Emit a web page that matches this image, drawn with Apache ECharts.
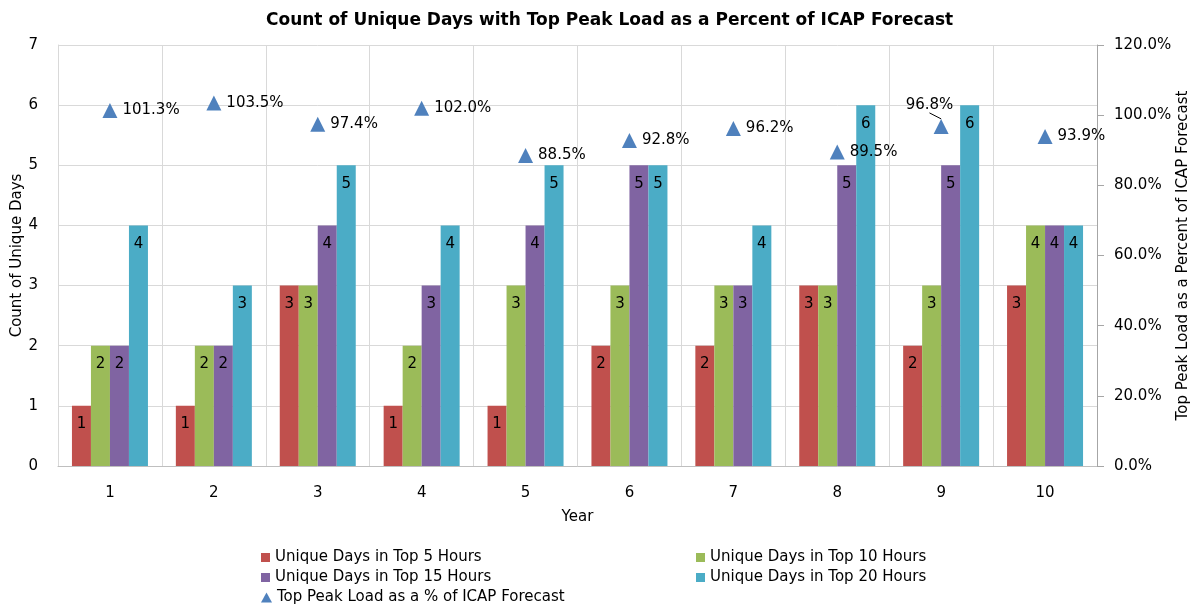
<!DOCTYPE html>
<html>
<head>
<meta charset="utf-8">
<script src="https://cdn.jsdelivr.net/npm/echarts@6/dist/echarts.min.js"></script>
<style>
  html, body { margin: 0; padding: 0; background: #fff; }
  #chart { width: 1196px; height: 604px; }
</style>
</head>
<body>
<div id="chart"></div>
<script>
  var years = ['1', '2', '3', '4', '5', '6', '7', '8', '9', '10'];
  var top5 = [1, 1, 3, 1, 1, 2, 2, 3, 2, 3];
  var top10 = [2, 2, 3, 2, 3, 3, 3, 3, 3, 4];
  var top15 = [2, 2, 4, 3, 4, 5, 3, 5, 5, 4];
  var top20 = [4, 3, 5, 4, 5, 5, 4, 6, 6, 4];
  var peakPct = [1.013, 1.035, 0.974, 1.020, 0.885, 0.928, 0.962, 0.895, 0.968, 0.939];
  // index of the point whose label sits above-left with a leader line
  var movedLabel = 8;

  var font = '"DejaVu Sans", "Liberation Sans", sans-serif';
  var myChart = echarts.init(document.getElementById('chart'));

  function barSeries(name, data, color) {
    return {
      name: name,
      type: 'bar',
      data: data,
      barWidth: 19,
      barGap: '0%',
      itemStyle: { color: color },
      label: {
        show: true,
        position: 'insideTop',
        distance: 11,
        color: '#000',
        fontSize: 15,
        fontFamily: font
      }
    };
  }

  var legendText = { fontSize: 15, color: '#000', fontFamily: font };

  var options = {
    animation: false,
    backgroundColor: '#fff',
    title: {
      text: 'Count of Unique Days with Top Peak Load as a Percent of ICAP Forecast',
      left: 261,
      top: 7,
      textStyle: { fontSize: 17, fontWeight: 'bold', color: '#000', fontFamily: font }
    },
    grid: { left: 58, right: 99, top: 45, bottom: 138, outerBoundsMode: 'none' },
    legend: [{
      left: 256,
      top: 545,
      orient: 'vertical',
      itemGap: 5,
      itemWidth: 9,
      itemHeight: 9,
      icon: 'rect',
      textStyle: legendText,
      data: ['Unique Days in Top 5 Hours', 'Unique Days in Top 15 Hours']
    }, {
      left: 256,
      top: 585,
      itemWidth: 11,
      itemHeight: 10,
      textStyle: legendText,
      data: [{ name: 'Top Peak Load as a % of ICAP Forecast', icon: 'triangle' }]
    }, {
      left: 691,
      top: 545,
      orient: 'vertical',
      itemGap: 5,
      itemWidth: 9,
      itemHeight: 9,
      icon: 'rect',
      textStyle: legendText,
      data: ['Unique Days in Top 10 Hours', 'Unique Days in Top 20 Hours']
    }],
    xAxis: {
      type: 'category',
      data: years,
      name: 'Year',
      nameLocation: 'middle',
      nameGap: 44,
      nameTextStyle: { fontSize: 15, color: '#000', fontFamily: font },
      axisLine: { lineStyle: { color: '#bfbfbf' } },
      axisTick: { show: false },
      axisLabel: { fontSize: 15, color: '#000', margin: 20, fontFamily: font },
      splitLine: { show: true, lineStyle: { color: '#d9d9d9' } }
    },
    yAxis: [{
      type: 'value',
      min: 0,
      max: 7,
      interval: 1,
      name: 'Count of Unique Days',
      nameLocation: 'middle',
      nameGap: 33,
      nameMoveOverlap: false,
      nameTextStyle: { fontSize: 15, color: '#000', fontFamily: font },
      axisLine: { show: true, lineStyle: { color: '#d9d9d9' } },
      axisTick: { show: false },
      axisLabel: { fontSize: 15, color: '#000', margin: 20, fontFamily: font },
      splitLine: { lineStyle: { color: '#d9d9d9' } }
    }, {
      type: 'value',
      min: 0,
      max: 1.2,
      interval: 0.2,
      name: 'Top Peak Load as a Percent of ICAP Forecast',
      nameLocation: 'middle',
      nameGap: 79,
      nameRotate: 90,
      nameMoveOverlap: false,
      nameTextStyle: { fontSize: 15, color: '#000', fontFamily: font },
      axisLine: { show: true, lineStyle: { color: '#a6a6a6' } },
      axisTick: { show: true, length: 7, lineStyle: { color: '#a6a6a6' } },
      axisLabel: {
        fontSize: 15, color: '#000', margin: 17, fontFamily: font,
        formatter: function (v) { return (v * 100).toFixed(1) + '%'; }
      },
      splitLine: { show: false }
    }],
    series: [
      barSeries('Unique Days in Top 5 Hours', top5, '#C0504D'),
      barSeries('Unique Days in Top 10 Hours', top10, '#9BBB59'),
      barSeries('Unique Days in Top 15 Hours', top15, '#8064A2'),
      barSeries('Unique Days in Top 20 Hours', top20, '#4BACC6'),
      {
        name: 'Top Peak Load as a % of ICAP Forecast',
        type: 'scatter',
        yAxisIndex: 1,
        data: peakPct.map(function (v, i) {
          return i === movedLabel
            ? { value: v, labelLine: { show: true } }
            : { value: v };
        }),
        symbol: 'triangle',
        symbolSize: 15,
        itemStyle: { color: '#4F81BD', opacity: 1 },
        z: 5,
        label: {
          show: true,
          position: 'right',
          distance: 5,
          color: '#000',
          fontSize: 15,
          fontFamily: font,
          formatter: function (p) { return (p.value * 100).toFixed(1) + '%'; }
        },
        labelLine: { show: false, lineStyle: { color: '#000', width: 1 } },
        labelLayout: function (p) {
          if (p.dataIndex === movedLabel) {
            return { dx: -48, dy: -21 };
          }
          return {};
        }
      }
    ]
  };

  myChart.setOption(options);
</script>
</body>
</html>
